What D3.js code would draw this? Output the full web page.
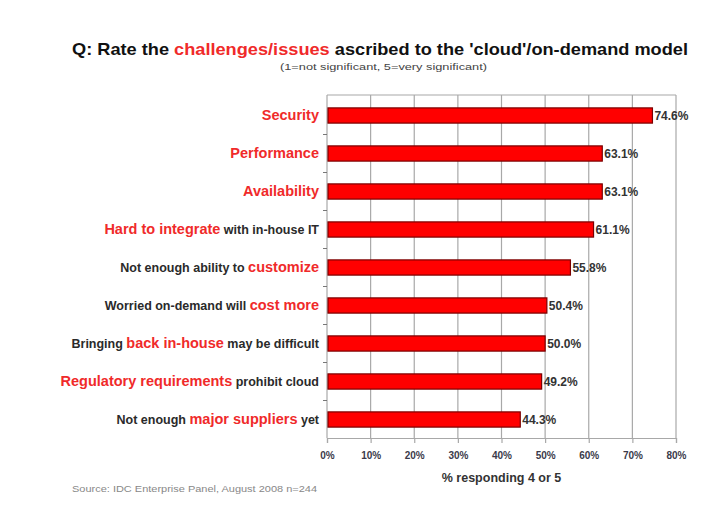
<!DOCTYPE html>
<html>
<head>
<meta charset="utf-8">
<script src="https://cdnjs.cloudflare.com/ajax/libs/d3/7.8.5/d3.min.js"></script>
<style>
  body { margin: 0; background: #fff; }
  svg { font-family: "Liberation Sans", Arial, sans-serif; }
</style>
</head>
<body>
<div id="chart"></div>
<script>
const FRAME_WIDTH = 704;
const FRAME_HEIGHT = 515;
const MARGINS = { left: 327, right: 28, top: 95, bottom: 77 };

const VIS_WIDTH = FRAME_WIDTH - MARGINS.left - MARGINS.right;
const VIS_HEIGHT = FRAME_HEIGHT - MARGINS.top - MARGINS.bottom;

// data
const categories = [
  "Security",
  "Performance",
  "Availability",
  "Hard to integrate with in-house IT",
  "Not enough ability to customize",
  "Worried on-demand will cost more",
  "Bringing back in-house may be difficult",
  "Regulatory requirements prohibit cloud",
  "Not enough major suppliers yet"
];
// part of each label printed in red
const highlights = [
  "Security",
  "Performance",
  "Availability",
  "Hard to integrate",
  "customize",
  "cost more",
  "back in-house",
  "Regulatory requirements",
  "major suppliers"
];
const values = [74.6, 63.1, 63.1, 61.1, 55.8, 50.4, 50.0, 49.2, 44.3];
const xTicks = [0, 10, 20, 30, 40, 50, 60, 70, 80];

const RED = "#ff0000";
const LABEL_RED = "#f02a2a";
const DARK = "#2a2a2a";
const GRID = "#a8a8a8";

const data = categories.map((c, i) => ({ cat: c, hi: highlights[i], val: values[i] }));

const FRAME = d3.select("#chart")
  .append("svg")
  .attr("width", FRAME_WIDTH)
  .attr("height", FRAME_HEIGHT);

// title
const title = FRAME.append("text")
  .attr("x", 72)
  .attr("y", 55)
  .attr("font-size", "17px")
  .attr("font-weight", "bold")
  .attr("fill", "#111")
  .attr("textLength", 616)
  .attr("lengthAdjust", "spacingAndGlyphs");
title.append("tspan").text("Q: Rate the ");
title.append("tspan").attr("fill", LABEL_RED).text("challenges/issues");
title.append("tspan").text(" ascribed to the 'cloud'/on-demand model");

FRAME.append("text")
  .attr("x", 280)
  .attr("y", 70)
  .attr("font-size", "9px")
  .attr("fill", "#444")
  .attr("textLength", 207)
  .attr("lengthAdjust", "spacingAndGlyphs")
  .text("(1=not significant, 5=very significant)");

const X_SCALE = d3.scaleLinear()
  .domain([0, 80])
  .range([0, VIS_WIDTH]);

const Y_SCALE = d3.scaleBand()
  .domain(categories)
  .range([1.5, VIS_HEIGHT + 0.5])
  .paddingInner(0.6)
  .paddingOuter(0.3);

const PLOT = FRAME.append("g")
  .attr("transform", "translate(" + MARGINS.left + "," + MARGINS.top + ")");

// vertical gridlines
PLOT.selectAll(".grid")
  .data(xTicks.slice(1))
  .enter()
  .append("line")
  .attr("x1", (d) => X_SCALE(d))
  .attr("x2", (d) => X_SCALE(d))
  .attr("y1", 0)
  .attr("y2", VIS_HEIGHT)
  .attr("stroke", GRID)
  .attr("stroke-width", 1.2);

// top border
PLOT.append("line")
  .attr("x1", 0).attr("x2", VIS_WIDTH)
  .attr("y1", 0).attr("y2", 0)
  .attr("stroke", GRID)
  .attr("stroke-width", 1.2);

// x axis
const xAxis = PLOT.append("g")
  .attr("transform", "translate(0," + VIS_HEIGHT + ")")
  .call(d3.axisBottom(X_SCALE).tickValues(xTicks).tickSize(5).tickPadding(9)
    .tickFormat((d) => d + "%"));
xAxis.select(".domain").attr("stroke", GRID).attr("stroke-width", 1.2);
xAxis.selectAll("line").attr("stroke", GRID).attr("stroke-width", 1.2);
xAxis.selectAll("text")
  .attr("font-size", "10px")
  .attr("font-weight", "bold")
  .attr("fill", "#3a3a4a");

// y axis line + ticks between categories
PLOT.append("line")
  .attr("x1", 0).attr("x2", 0)
  .attr("y1", 0).attr("y2", VIS_HEIGHT)
  .attr("stroke", GRID)
  .attr("stroke-width", 1.2);

const gap = (Y_SCALE.step() - Y_SCALE.bandwidth()) / 2;
PLOT.selectAll(".ytick")
  .data(categories.slice(1))
  .enter()
  .append("line")
  .attr("x1", -4)
  .attr("x2", 0)
  .attr("y1", (d) => Y_SCALE(d) - gap)
  .attr("y2", (d) => Y_SCALE(d) - gap)
  .attr("stroke", "#777");

// bars
PLOT.selectAll(".bar")
  .data(data)
  .enter()
  .append("rect")
  .attr("x", X_SCALE(0) + 1)
  .attr("y", (d) => Y_SCALE(d.cat))
  .attr("width", (d) => X_SCALE(d.val) - 1)
  .attr("height", Y_SCALE.bandwidth())
  .attr("fill", RED)
  .attr("stroke", "#7a0000")
  .attr("stroke-width", 1.2);

// value labels
PLOT.selectAll(".val")
  .data(data)
  .enter()
  .append("text")
  .attr("x", (d) => X_SCALE(d.val) + 2)
  .attr("y", (d) => Y_SCALE(d.cat) + Y_SCALE.bandwidth() / 2)
  .attr("dy", "0.35em")
  .attr("font-size", "12px")
  .attr("font-weight", "bold")
  .attr("fill", "#333")
  .text((d) => d.val.toFixed(1) + "%");

// category labels with red highlighted part
const labels = PLOT.selectAll(".cat")
  .data(data)
  .enter()
  .append("text")
  .attr("x", -8)
  .attr("y", (d) => Y_SCALE(d.cat) + Y_SCALE.bandwidth() / 2)
  .attr("dy", "0.35em")
  .attr("text-anchor", "end")
  .attr("font-size", "12.5px")
  .attr("font-weight", "bold")
  .attr("fill", DARK);

labels.each(function (d) {
  const t = d3.select(this);
  const i = d.cat.indexOf(d.hi);
  const before = d.cat.slice(0, i);
  const after = d.cat.slice(i + d.hi.length);
  if (before) t.append("tspan").text(before);
  t.append("tspan").attr("fill", LABEL_RED).attr("font-size", "14.5px").text(d.hi);
  if (after) t.append("tspan").text(after);
});

// x axis title
FRAME.append("text")
  .attr("x", MARGINS.left + X_SCALE(40))
  .attr("y", 482)
  .attr("text-anchor", "middle")
  .attr("font-size", "12.5px")
  .attr("font-weight", "bold")
  .attr("fill", "#333")
  .text("% responding 4 or 5");

// source
FRAME.append("text")
  .attr("x", 72)
  .attr("y", 492)
  .attr("font-size", "9px")
  .attr("fill", "#888")
  .attr("textLength", 245)
  .attr("lengthAdjust", "spacingAndGlyphs")
  .text("Source: IDC Enterprise Panel, August 2008  n=244");
</script>
</body>
</html>
